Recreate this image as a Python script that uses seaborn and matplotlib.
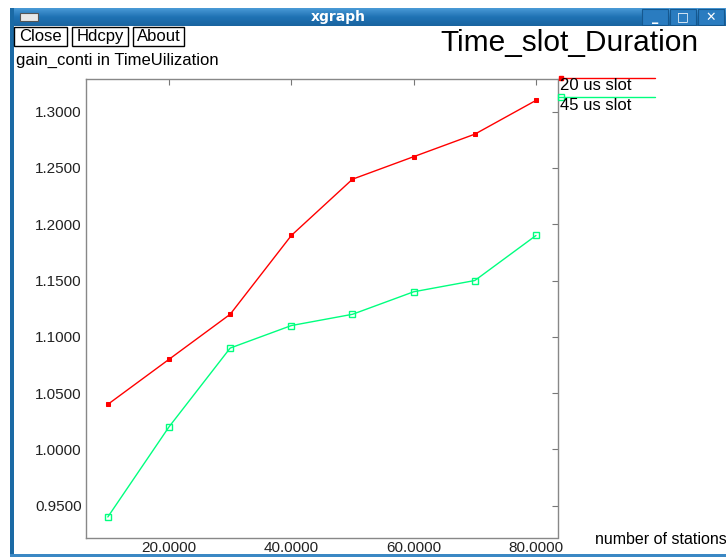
import numpy as np
import pandas as pd
import seaborn as sns
import matplotlib.pyplot as plt
from matplotlib.patches import Rectangle
from matplotlib.lines import Line2D
from matplotlib.colors import LinearSegmentedColormap

# data
stations = [10, 20, 30, 40, 50, 60, 70, 80]
slot_20us = [1.04, 1.08, 1.12, 1.19, 1.24, 1.26, 1.28, 1.31]
slot_45us = [0.94, 1.02, 1.09, 1.11, 1.12, 1.14, 1.15, 1.19]
series_names = ["20 us slot", "45 us slot"]
x_ticks = [20, 40, 60, 80]
y_ticks = [0.95, 1.00, 1.05, 1.10, 1.15, 1.20, 1.25, 1.30]

df = pd.DataFrame({
    "stations": stations * 2,
    "gain": slot_20us + slot_45us,
    "series": [series_names[0]] * len(stations) + [series_names[1]] * len(stations),
})

sns.set_theme(style="white")
plt.rcParams['font.family'] = ['Liberation Sans', 'DejaVu Sans']

W, H = 726, 557
fig = plt.figure(figsize=(W / 100, H / 100), dpi=100)
fig.patch.set_facecolor("white")


def fx(x):
    return x / W


def fy(y):
    return 1 - y / H


RED = "#ff0000"
GREEN = "#00ff7f"
BLUE = "#1b6aa5"

# ---- window chrome ----
bar = fig.add_axes([fx(10), fy(26), fx(716), 18 / H])
grad = np.linspace(0, 1, 50).reshape(-1, 1)
cm = LinearSegmentedColormap.from_list("bar", ["#4a9ad6", "#1f72b4", "#1a64a0"])
bar.imshow(grad, aspect="auto", cmap=cm, extent=[0, 1, 0, 1])
bar.set_axis_off()
bar.add_patch(Rectangle((10 / 716, 0.3), 18 / 716, 0.45, facecolor="#e8e8e8",
                        edgecolor="#555555", lw=0.8))
bar.text(328 / 716, 0.5, "xgraph", color="white", fontweight="bold",
         fontsize=10, ha="center", va="center", family=["DejaVu Sans"])
for i, glyph in enumerate(["_", "□", "✕"]):
    x0 = (632 + i * 28) / 716
    bar.add_patch(Rectangle((x0, 0.05), 26 / 716, 0.9, facecolor="#2a7cc0",
                            edgecolor="#16588f", lw=0.8))
    bar.text(x0 + 13 / 716, 0.5, glyph, color="white", fontweight="bold",
             fontsize=9, ha="center", va="center", family=["DejaVu Sans"])

fig.add_artist(Rectangle((fx(10), fy(557)), fx(4), 549 / H, transform=fig.transFigure,
                         facecolor=BLUE, edgecolor="none"))
fig.add_artist(Rectangle((fx(10), fy(557)), fx(716), 3 / H, transform=fig.transFigure,
                         facecolor="#3b88c4", edgecolor="none"))

for label, x0, x1 in [("Close", 14, 67), ("Hdcpy", 72, 128), ("About", 133, 184)]:
    fig.add_artist(Rectangle((fx(x0), fy(46)), fx(x1 - x0), 19 / H,
                             transform=fig.transFigure, facecolor="white",
                             edgecolor="black", lw=1))
    fig.text(fx((x0 + x1) / 2), fy(36.5), label, ha="center", va="center",
             fontsize=12, color="black")

fig.text(fx(16), fy(60), "gain_conti in TimeUilization", ha="left", va="center",
         fontsize=12, color="black")
fig.text(fx(440), fy(43), "Time_slot_Duration", ha="left", va="center",
         fontsize=21.5, color="black")
fig.text(fx(595), fy(540), "number of stations", ha="left", va="center",
         fontsize=11.5, color="black")

# ---- plot area ----
ax = fig.add_axes([fx(86), fy(538), fx(558 - 86), (538 - 79) / H])
sns.lineplot(data=df, x="stations", y="gain", hue="series",
             palette=[RED, GREEN], style="series",
             markers={series_names[0]: "s", series_names[1]: "s"},
             dashes=False, linewidth=1, legend=False, ax=ax)
lines = ax.get_lines()
lines[0].set_markersize(3)
lines[0].set_markerfacecolor(RED)
lines[0].set_markeredgecolor(RED)
lines[1].set_markersize(5)
lines[1].set_markerfacecolor("none")
lines[1].set_markeredgecolor(GREEN)
lines[1].set_markeredgewidth(1)

ax.set_xlim(6.43, 83.6)
ax.set_ylim(0.9213, 1.329)
ax.set_xticks(x_ticks)
ax.set_yticks(y_ticks)
ax.set_xticklabels([f"{v:.4f}" for v in x_ticks])
ax.set_yticklabels([f"{v:.4f}" for v in y_ticks])
ax.set_xlabel("")
ax.set_ylabel("")
ax.tick_params(direction="in", length=4, width=0.8, color="#777777",
               top=True, right=True, labelsize=11, pad=3, labelcolor="#222222")
ax.tick_params(axis="x", pad=2.5)
for spine in ax.spines.values():
    spine.set_visible(True)
    spine.set_linestyle((0, (1, 1)))
    spine.set_color("#888888")
    spine.set_linewidth(1)
ax.set_facecolor("white")

# ---- legend (xgraph style, outside on the right) ----
for name, color, yl, ms, face in [(series_names[0], RED, 78, 3, RED),
                                  (series_names[1], GREEN, 97, 5, "none")]:
    fig.add_artist(Line2D([fx(559), fx(655)], [fy(yl), fy(yl)],
                          transform=fig.transFigure, color=color, lw=1))
    fig.add_artist(Line2D([fx(561)], [fy(yl)], transform=fig.transFigure,
                          marker="s", markersize=ms, color=color,
                          markerfacecolor=face, markeredgecolor=color, lw=0))
    fig.text(fx(560), fy(yl + 8), name, ha="left", va="center",
             fontsize=12, color="black")

fig.savefig("out.png", dpi=100)
